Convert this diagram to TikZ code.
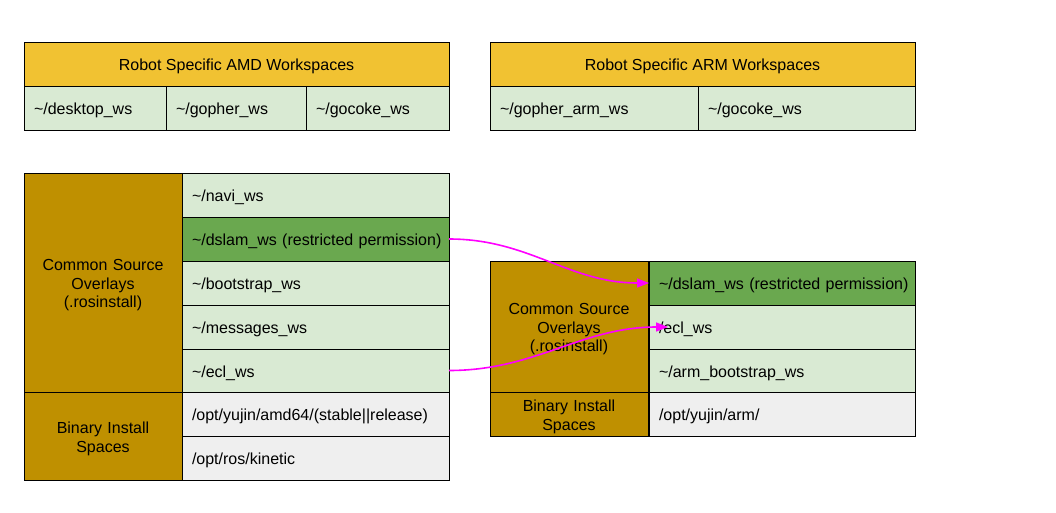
\documentclass[tikz,border=0pt]{standalone}
\usepackage{fontspec}
\setmainfont{Liberation Sans}
\usetikzlibrary{positioning,arrows.meta}
\definecolor{hdryellow}{HTML}{F1C232}
\definecolor{wsgreen}{HTML}{D9EAD3}
\definecolor{dkgreen}{HTML}{6AA84F}
\definecolor{srcgold}{HTML}{BF9000}
\definecolor{bingrey}{HTML}{EFEFEF}
\definecolor{linkpink}{HTML}{FF00FF}

\begin{document}
\begin{tikzpicture}[x=1pt,y=-1pt,
    font=\fontsize{16}{18.5}\selectfont,
    box/.style={draw=black, line width=0.9pt, outer sep=0pt, anchor=north west},
    hdr/.style={box, fill=hdryellow, minimum width=425pt, minimum height=44pt, text height=13pt, text depth=0pt},
    cell/.style={box, fill=wsgreen, minimum height=44pt, inner xsep=10pt, align=left, text height=13pt, text depth=0pt},
    lbl/.style={box, fill=srcgold, text width=138pt, inner xsep=10pt, align=center,
        execute at begin node=\rule{0pt}{17pt}},
    link/.style={draw=linkpink, line width=1.6pt, -{Triangle[length=12pt,width=9pt]}}]

    \useasboundingbox (0,0) rectangle (1056,513);

    % robot specific workspaces
    \node[hdr] (amdhdr) at (24,42) {Robot Specific AMD Workspaces};
    \node[cell, text width=122pt] (desktop) at (24,86) {\textasciitilde/desktop\_ws};
    \node[cell, text width=120pt, right=0pt of desktop] (gopher) {\textasciitilde/gopher\_ws};
    \node[cell, text width=123pt, right=0pt of gopher] (gocoke) {\textasciitilde/gocoke\_ws};

    \node[hdr] (armhdr) at (490,42) {Robot Specific ARM Workspaces};
    \node[cell, text width=188pt] (gopherarm) at (490,86) {\textasciitilde/gopher\_arm\_ws};
    \node[cell, text width=197pt, right=0pt of gopherarm] (gocokearm) {\textasciitilde/gocoke\_ws};

    % amd overlays
    \node[lbl, minimum height=219pt] (amdsrc) at (24,173) {Common Source\\Overlays\\(.rosinstall)};
    \node[lbl, minimum height=88pt] (amdbin) at (24,392) {Binary Install\\Spaces};
    \node[cell, text width=247pt] (navi) at (182,173) {\textasciitilde/navi\_ws};
    \node[cell, text width=247pt, fill=dkgreen, below=0pt of navi] (dslam) {\mbox{\textasciitilde/dslam\_ws (restricted permission)}};
    \node[cell, text width=247pt, below=0pt of dslam] (bootstrap) {\textasciitilde/bootstrap\_ws};
    \node[cell, text width=247pt, below=0pt of bootstrap] (messages) {\textasciitilde/messages\_ws};
    \node[cell, text width=247pt, minimum height=43pt, below=0pt of messages] (ecl) {\textasciitilde/ecl\_ws};
    \node[cell, text width=247pt, fill=bingrey, below=0pt of ecl] (yujin) {/opt/yujin/amd64/(stable||release)};
    \node[cell, text width=247pt, fill=bingrey, below=0pt of yujin] (kinetic) {/opt/ros/kinetic};

    % arm overlays
    \node[lbl, minimum height=131pt] (armsrc) at (490,261) {Common Source\\Overlays\\(.rosinstall)};
    \node[lbl, minimum height=44pt, inner ysep=1pt] (armbin) at (490,392) {Binary Install\\Spaces};
    \node[cell, text width=246pt, fill=dkgreen] (dslamarm) at (649,261) {\mbox{\textasciitilde/dslam\_ws (restricted permission)}};
    \node[cell, text width=246pt, below=0pt of dslamarm] (eclarm) {/ecl\_ws};
    \node[cell, text width=246pt, minimum height=43pt, below=0pt of eclarm] (armboot) {\textasciitilde/arm\_bootstrap\_ws};
    \node[cell, text width=246pt, fill=bingrey, below=0pt of armboot] (yujinarm) {/opt/yujin/arm/};

    \coordinate (eclend) at ([xshift=19pt]eclarm.west);

    \draw[link] (dslam.east) to[out=0,in=180] (dslamarm.west);
    \draw[link] (ecl.east) to[out=0,in=180] (eclend);
\end{tikzpicture}
\end{document}
